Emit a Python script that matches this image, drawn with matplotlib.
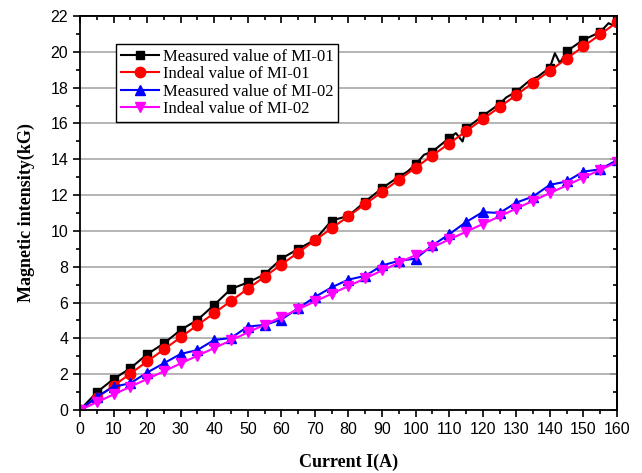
import numpy as np
import matplotlib
matplotlib.use("Agg")
import matplotlib.pyplot as plt
from matplotlib.ticker import MultipleLocator

# current steps (A) where markers sit
current = [0, 5, 10, 15, 20, 25, 30, 35, 40, 45, 50, 55, 60, 65, 70, 75, 80,
           85, 90, 95, 100, 105, 110, 115, 120, 125, 130, 135, 140, 145, 150, 155, 160]

# MI-01 measured, incl. a few in-between readings that show as wiggles
current_mi01 = [0, 5, 10, 15, 20, 25, 30, 35, 40, 45, 50, 55, 60, 65, 70, 75, 80,
                85, 90, 95, 97.5, 100, 102.5, 105, 110, 112, 114, 115, 120, 125, 127,
                130, 134, 136.5, 140, 141.5, 143, 145, 150, 155, 157.5, 158.5, 160]
measured_mi01 = [0, 0.99, 1.73, 2.33, 3.11, 3.72, 4.47, 5.03, 5.87, 6.76, 7.12, 7.57,
                 8.45, 8.99, 9.50, 10.58, 10.84, 11.64, 12.38, 13.03, 13.30, 13.72,
                 14.25, 14.43, 15.18, 15.46, 14.99, 15.72, 16.42, 17.09, 17.45,
                 17.78, 18.40, 18.62, 19.12, 19.92, 19.37, 20.03, 20.67, 21.10,
                 21.60, 21.50, 21.70]
ideal_mi01 = [0, 0.68, 1.35, 2.03, 2.71, 3.38, 4.06, 4.74, 5.41, 6.09, 6.77, 7.44,
              8.12, 8.79, 9.47, 10.15, 10.82, 11.50, 12.18, 12.85, 13.53, 14.21,
              14.88, 15.56, 16.24, 16.91, 17.59, 18.27, 18.94, 19.62, 20.30, 20.97, 21.65]

measured_mi02 = [0, 0.74, 1.30, 1.49, 2.09, 2.61, 3.13, 3.35, 3.91, 4.02, 4.66, 4.75,
                 5.05, 5.68, 6.31, 6.85, 7.28, 7.49, 8.07, 8.33, 8.45, 9.19, 9.81,
                 10.49, 11.05, 11.00, 11.58, 11.92, 12.57, 12.76, 13.31, 13.44, 13.95]
ideal_mi02 = [0, 0.43, 0.87, 1.30, 1.73, 2.16, 2.60, 3.03, 3.46, 3.89, 4.33, 4.76,
              5.19, 5.62, 6.06, 6.49, 6.92, 7.35, 7.79, 8.22, 8.65, 9.08, 9.52,
              9.95, 10.38, 10.81, 11.25, 11.68, 12.11, 12.54, 12.98, 13.41, 13.84]

xticks = list(range(0, 161, 10))
yticks = list(range(0, 23, 2))

fig = plt.figure(figsize=(6.42, 4.73), dpi=100)
ax = fig.add_axes([0.1246, 0.1332, 0.8364, 0.833])

ax.grid(axis="y", color="#a8a8a8", linewidth=1.2, zorder=0)
ax.set_axisbelow(True)

mark_idx = [i for i, c in enumerate(current_mi01) if c % 5 == 0]
ax.plot(current_mi01, measured_mi01, color="black", lw=1.5, marker="s", ms=6,
        markevery=mark_idx, label="Measured value of MI-01")
ax.plot(current, ideal_mi01, color="red", lw=1.5, marker="o", ms=7.5,
        label="Indeal value of MI-01")
ax.plot(current, measured_mi02, color="blue", lw=1.5, marker="^", ms=7.5,
        label="Measured value of MI-02")
ax.plot(current, ideal_mi02, color="magenta", lw=1.5, marker="v", ms=7.5,
        label="Indeal value of MI-02")

ax.set_xlim(0, 160)
ax.set_ylim(0, 22)
ax.set_xticks(xticks)
ax.set_yticks(yticks)
ax.xaxis.set_minor_locator(MultipleLocator(5))
ax.yaxis.set_minor_locator(MultipleLocator(1))
ax.tick_params(which="both", direction="out", width=1.2, labelsize=11.5)
ax.tick_params(which="major", length=5)
ax.tick_params(which="minor", length=3)
for lab in ax.get_xticklabels() + ax.get_yticklabels():
    lab.set_family("Liberation Sans")

# top / right ticks point inward, no labels
top = ax.secondary_xaxis("top")
top.set_xticks(xticks)
top.xaxis.set_minor_locator(MultipleLocator(5))
top.tick_params(which="both", direction="in", width=1.2, labeltop=False)
top.tick_params(which="major", length=5)
top.tick_params(which="minor", length=3)
right = ax.secondary_yaxis("right")
right.set_yticks(yticks)
right.yaxis.set_minor_locator(MultipleLocator(1))
right.tick_params(which="both", direction="in", width=1.2, labelright=False)
right.tick_params(which="major", length=5)
right.tick_params(which="minor", length=3)

for s in list(ax.spines.values()) + [top.spines["top"], right.spines["right"]]:
    s.set_linewidth(1.3)

ax.set_xlabel("Current I(A)", family="Liberation Serif", fontweight="bold",
              fontsize=13, labelpad=12)
ax.set_ylabel("Magnetic intensity(kG)", family="Liberation Serif", fontweight="bold",
              fontsize=13, labelpad=11)

leg = ax.legend(loc="upper left", bbox_to_anchor=(0.067, 0.929), borderaxespad=0,
                prop={"family": "Liberation Serif", "size": 12}, fancybox=False,
                framealpha=1, edgecolor="black", handlelength=2.3, handletextpad=0.2,
                labelspacing=0.08, borderpad=0.3)
leg.get_frame().set_linewidth(1.0)

fig.savefig("out.png", dpi=100)
